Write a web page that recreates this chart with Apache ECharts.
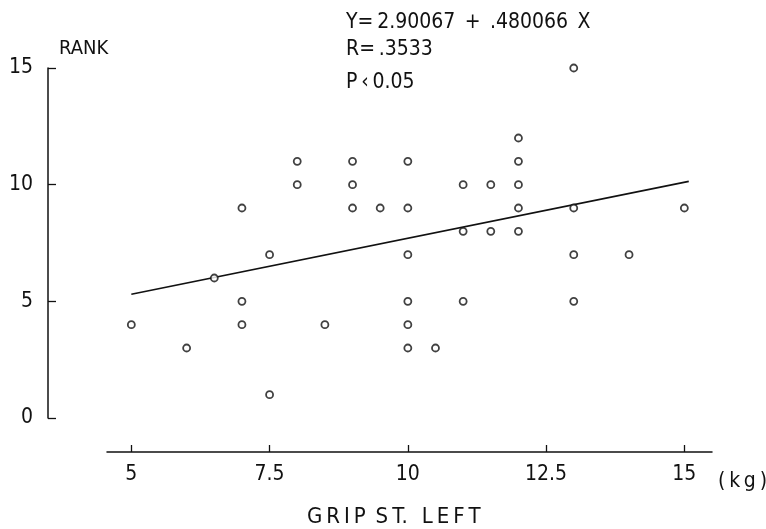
<!DOCTYPE html>
<html>
<head>
<meta charset="utf-8">
<style>
  html, body { margin: 0; padding: 0; background: #fff; }
  #chart { width: 766px; height: 529px; }
</style>
<script src="https://cdn.jsdelivr.net/npm/echarts@6/dist/echarts.min.js"></script>
</head>
<body>
<div id="chart"></div>
<script>
// grip strength (kg) vs rank
var gripX = [5, 6, 6.5, 7, 7, 7, 7.5, 7.5, 8, 8, 8.5, 9, 9, 9, 9.5,
             10, 10, 10, 10, 10, 10, 10.5, 11, 11, 11, 11.5, 11.5,
             12, 12, 12, 12, 12, 13, 13, 13, 13, 14, 15];
var rankY = [4, 3, 6, 9, 5, 4, 7, 1, 11, 10, 4, 11, 10, 9, 9,
             11, 9, 7, 5, 4, 3, 3, 10, 8, 5, 10, 8,
             12, 11, 10, 9, 8, 15, 9, 7, 5, 7, 9];
// regression line end points (Y = 2.90067 + .480066 X)
var fitX = [5, 15.08];
var fitY = [5.3, 10.14];
var xTicks = [5, 7.5, 10, 12.5, 15];

var font = "'DejaVu Sans Condensed', 'Liberation Sans Narrow', 'DejaVu Sans', sans-serif";
var ink = '#111';

var points = gripX.map(function (x, i) { return [x, rankY[i]]; });
var fitLine = fitX.map(function (x, i) { return [x, fitY[i]]; });

var chart = echarts.init(document.getElementById('chart'));
var option = {
  backgroundColor: '#fff',
  animation: false,
  title: [
    { text: 'RANK', left: 54, top: 34,
      textStyle: { fontFamily: font, fontSize: 20, fontWeight: 'normal', color: ink } },
    { text: 'Y=\u20092.90067\u2002+\u2002.480066\u2002X', left: 341, top: 7,
      textStyle: { fontFamily: font, fontSize: 21, fontWeight: 'normal', color: ink } },
    { text: 'R=\u2009.3533', left: 341, top: 34,
      textStyle: { fontFamily: font, fontSize: 21, fontWeight: 'normal', color: ink } },
    { text: 'P\u2009\u2039\u20090.05', left: 341, top: 67,
      textStyle: { fontFamily: font, fontSize: 21, fontWeight: 'normal', color: ink } },
    { text: '(\u2009k\u2009g\u2009)', left: 713, top: 466,
      textStyle: { fontFamily: font, fontSize: 21, fontWeight: 'normal', color: ink } },
    { text: 'G\u2009R\u2009I\u2009P\u2002S\u2009T.\u2009\u2002L\u2009E\u2009F\u2009T', left: 302, top: 501,
      textStyle: { fontFamily: font, fontSize: 22, fontWeight: 'normal', color: ink } }
  ],
  grid: { left: 107, right: 54, top: 68, bottom: 111 },
  xAxis: {
    type: 'value',
    min: 4.56,
    max: 15.5,
    offset: 34,
    splitLine: { show: false },
    axisLine: { show: true, onZero: false, lineStyle: { color: ink, width: 1.5 } },
    axisTick: { show: true, inside: true, length: 7, customValues: xTicks,
                lineStyle: { color: ink, width: 1.3 } },
    axisLabel: { customValues: xTicks, margin: 12, color: ink,
                 fontFamily: font, fontSize: 21 }
  },
  yAxis: {
    type: 'value',
    min: 0,
    max: 15,
    interval: 5,
    offset: 59,
    splitLine: { show: false },
    axisLine: { show: true, onZero: false, lineStyle: { color: ink, width: 1.5 } },
    axisTick: { show: true, inside: true, length: 8, lineStyle: { color: ink, width: 1.3 } },
    axisLabel: { margin: 15, color: ink, fontFamily: font, fontSize: 21 }
  },
  series: [
    {
      type: 'line',
      data: fitLine,
      symbol: 'none',
      lineStyle: { color: ink, width: 1.6 },
      z: 2
    },
    {
      type: 'scatter',
      data: points,
      symbol: 'circle',
      symbolSize: 7,
      itemStyle: { color: '#fff', borderColor: ink, borderWidth: 1.8 },
      z: 3
    }
  ]
};
chart.setOption(option);
</script>
</body>
</html>
